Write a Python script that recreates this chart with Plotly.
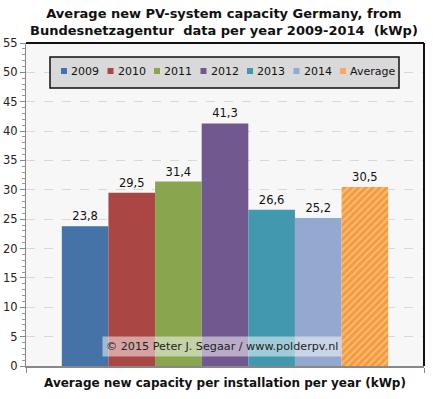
import plotly.graph_objects as go

series_names = ["2009", "2010", "2011", "2012", "2013", "2014", "Average"]
values = [23.8, 29.5, 31.4, 41.3, 26.6, 25.2, 30.5]
value_labels = ["23,8", "29,5", "31,4", "41,3", "26,6", "25,2", "30,5"]
colors = ["#4572a7", "#aa4643", "#89a54e", "#71588f", "#4198af", "#93a9cf", "#f79a3a"]
y_ticks = [0, 5, 10, 15, 20, 25, 30, 35, 40, 45, 50, 55]

FONT = "DejaVu Sans"
W, H = 433, 399
L, R, T, B = 26, 9, 43, 33
PW, PH = W - L - R, H - T - B


def px_x(x):
    return (x - L) / PW


def px_y(y):
    return (H - B - y) / PH


fig = go.Figure()
for name, v, lab, c in zip(series_names, values, value_labels, colors):
    marker = dict(color=c, line=dict(width=0))
    if name == "Average":
        marker = dict(color=c, line=dict(width=0),
                      pattern=dict(shape="/", fgcolor="#fde0c0", bgcolor=c,
                                   size=5, solidity=0.4, fillmode="overlay"))
    fig.add_trace(go.Bar(
        x=[""], y=[v], name=name, marker=marker,
        text=[lab], textposition="outside",
        textfont=dict(family=FONT, size=11.5, color="#111111"),
        cliponaxis=False, showlegend=False, hoverinfo="skip",
    ))

fig.update_layout(
    width=W, height=H,
    margin=dict(l=L, r=R, t=T, b=B),
    paper_bgcolor="white", plot_bgcolor="#f7f7f7",
    barmode="group", bargap=0.18, bargroupgap=0,
    font=dict(family=FONT, size=12, color="#222222"),
    showlegend=False,
    xaxis=dict(
        showticklabels=False, showgrid=False, zeroline=False, automargin=False,
        showline=True, linecolor="#888888", linewidth=2,
        ticks="outside", tickson="boundaries", ticklen=5, tickcolor="#888888",
        title=dict(text="<b>Average new capacity per installation per year (kWp)</b>",
                   font=dict(family=FONT, size=12, color="#111111"), standoff=12),
    ),
    yaxis=dict(
        range=[0, 55], tickvals=y_ticks, showline=True, linecolor="#888888", linewidth=1,
        ticks="outside", ticklen=5, tickcolor="#888888", automargin=False,
        tickfont=dict(family=FONT, size=11.5, color="#222222"),
        showgrid=True, gridcolor="#d8d8d8", griddash="dash", gridwidth=1,
        zeroline=False,
        minor=dict(dtick=1, ticks="outside", ticklen=3, tickcolor="#999999", showgrid=False),
    ),
)

# title
fig.add_annotation(
    text="<b>Average new PV-system capacity Germany, from<br>Bundesnetzagentur  data per year 2009-2014  (kWp)</b>",
    xref="paper", yref="paper", x=px_x(224), y=px_y(4), xanchor="center", yanchor="top",
    showarrow=False, align="center",
    font=dict(family=FONT, size=13, color="#111111"),
)

# legend box
fig.add_shape(type="rect", xref="paper", yref="paper",
              x0=px_x(50), x1=px_x(399), y0=px_y(88), y1=px_y(57),
              fillcolor="#d9d9d9", line=dict(color="#111111", width=1.5), layer="above")
# legend entries
leg_y = 71
for i, (name, c) in enumerate(zip(series_names, colors)):
    sx = 61 + i * 46.5
    fc = "#f9a85e" if name == "Average" else c
    fig.add_shape(type="rect", xref="paper", yref="paper",
                  x0=px_x(sx), x1=px_x(sx + 6), y0=px_y(leg_y + 3), y1=px_y(leg_y - 3),
                  fillcolor=fc, line=dict(width=0), layer="above")
    fig.add_annotation(text=name, xref="paper", yref="paper",
                       x=px_x(sx + 8), y=px_y(leg_y), xanchor="left", yanchor="middle",
                       showarrow=False, font=dict(family=FONT, size=11, color="#111111"))

# top & right border
fig.add_shape(type="line", xref="paper", yref="paper", x0=0, x1=1, y0=1, y1=1,
              line=dict(color="#111111", width=2))
fig.add_shape(type="line", xref="paper", yref="paper", x0=1, x1=1, y0=0, y1=1,
              line=dict(color="#111111", width=2))

fig.add_annotation(
    text="© 2015 Peter J. Segaar / www.polderpv.nl",
    xref="paper", yref="paper", x=px_x(222), y=px_y(346),
    xanchor="center", yanchor="middle", showarrow=False,
    font=dict(family=FONT, size=11.2, color="#222222"),
    bgcolor="rgba(255,255,255,0.5)", borderpad=3,
)

fig.write_html("out.html", config={"displayModeBar": False},
               post_script="document.body.style.margin='0';")
